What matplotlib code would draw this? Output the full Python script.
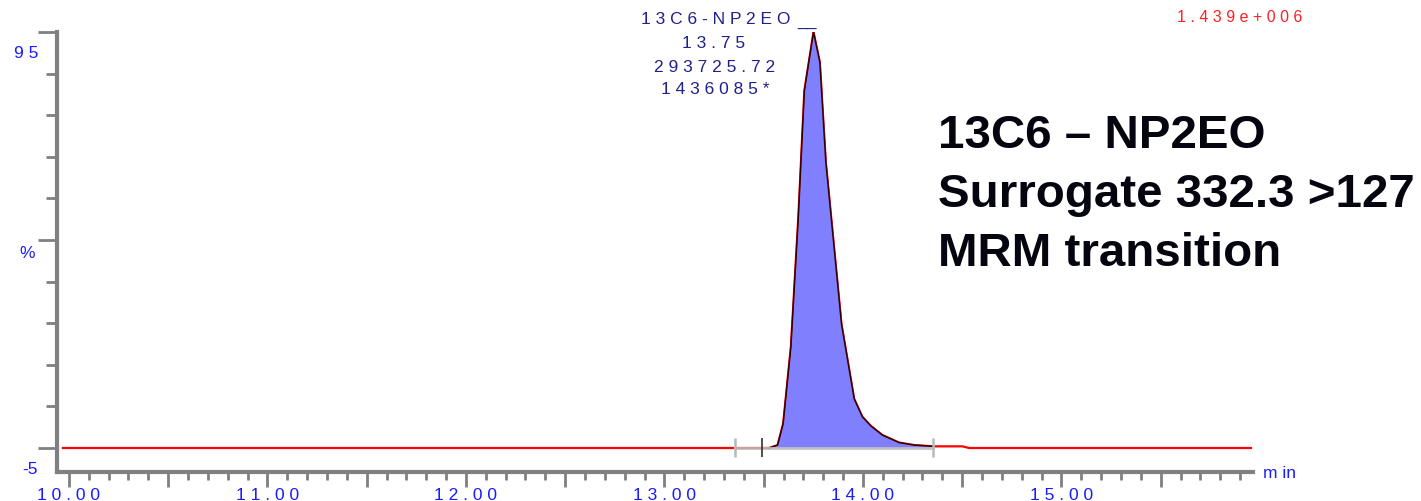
import matplotlib
matplotlib.use('Agg')
import matplotlib.pyplot as plt
from matplotlib.ticker import MultipleLocator, FuncFormatter

plt.rcParams['font.family'] = ['Liberation Sans', 'DejaVu Sans']

# chromatogram trace (time in min, relative intensity in %)
rt = [9.97, 13.40, 13.528, 13.570, 13.598, 13.637, 13.674, 13.705, 13.751,
      13.783, 13.813, 13.892, 13.956, 13.997, 14.040, 14.098, 14.182,
      14.258, 14.353, 14.40, 14.50, 14.535, 15.955]
intensity = [0.0, 0.0, 0.0, 0.7, 5.8, 24.3, 55.0, 85.9, 100.0,
             92.7, 68.8, 29.8, 11.8, 7.5, 5.3, 3.1, 1.3,
             0.7, 0.4, 0.4, 0.4, 0.0, 0.0]

# integration
peak_start = 13.528
peak_end = 14.353
marker_gray = [13.357, 14.353]
marker_black = [13.49]

peak_name = '13C6-NP2EO'
peak_rt = '13.75'
peak_area = '293725.72'
peak_height = '1436085*'
full_scale = '1.439e+006'
title_lines = ['13C6 \u2013 NP2EO', 'Surrogate 332.3 >127', 'MRM transition']


def spaced(s):
    return ' '.join(s)


W, H = 1421, 502
fig = plt.figure(figsize=(W / 100, H / 100), dpi=100)
ax = fig.add_axes([57 / W, (H - 473) / H, (1253 - 57) / W, (473 - 33) / H])

ax.plot(rt, intensity, color='#ff0000', linewidth=1.6, zorder=2)

# peak area
pk_x = [t for t in rt if peak_start <= t <= peak_end]
pk_y = [v for t, v in zip(rt, intensity) if peak_start <= t <= peak_end]
ax.fill_between(pk_x, pk_y, 0, color='#8080ff', linewidth=0, zorder=3)
ax.plot(pk_x, pk_y, color='#300000', linewidth=1.1, zorder=4)
ax.plot([marker_gray[0], peak_end], [0, 0], color='#c0c0c0', alpha=0.85,
        linewidth=2.2, zorder=4)
ax.vlines(marker_gray, -2.2, 2.4, color='#b8b8b8', linewidth=1.8, zorder=5)
ax.vlines(marker_black, -2.2, 2.4, color='#303030', linewidth=1.2, zorder=5)

ax.set_xlim(9.94, 15.965)
ax.set_ylim(-5.77, 100)

for s in ['top', 'right']:
    ax.spines[s].set_visible(False)
for s in ['left', 'bottom']:
    ax.spines[s].set_color('#808080')
    ax.spines[s].set_linewidth(3)

ax.xaxis.set_major_locator(MultipleLocator(0.5))
ax.xaxis.set_minor_locator(MultipleLocator(0.1))
ax.xaxis.set_major_formatter(FuncFormatter(
    lambda v, p: spaced('%.2f' % v) if abs(v - round(v)) < 1e-6 else ''))
ax.tick_params(axis='x', which='major', length=11, width=2, color='#808080',
               labelcolor='#1a1aff', labelsize=12.5, pad=0)
ax.tick_params(axis='x', which='minor', length=6, width=2, color='#808080')

ax.yaxis.set_major_locator(MultipleLocator(50))
ax.yaxis.set_minor_locator(MultipleLocator(10))
ax.tick_params(axis='y', which='major', length=14, width=2, color='#808080',
               labelleft=False)
ax.tick_params(axis='y', which='minor', length=8, width=2, color='#808080')


def fx(px):
    return px / W


def fy(py):
    return 1 - py / H


blue = '#1a1aff'
fig.text(fx(38), fy(53), spaced('95'), color=blue, fontsize=12.5,
         ha='right', va='center')
fig.text(fx(27), fy(253), '%', color=blue, fontsize=12.5, ha='center', va='center')
fig.text(fx(38), fy(470), '-5', color=blue, fontsize=12.5, ha='right', va='center')
fig.text(fx(1263), fy(473), 'm in', color=blue, fontsize=12.5, ha='left', va='center')

navy = '#20208a'
fig.text(fx(716), fy(20), spaced(peak_name), color=navy, fontsize=12.5,
         ha='center', va='center')
fig.text(fx(797), fy(22), '__', color=navy, fontsize=12.5, ha='left', va='center')
fig.text(fx(714), fy(44), spaced(peak_rt), color=navy, fontsize=12.5,
         ha='center', va='center')
fig.text(fx(715), fy(67), spaced(peak_area), color=navy, fontsize=12.5,
         ha='center', va='center')
fig.text(fx(715), fy(89), spaced(peak_height), color=navy, fontsize=12.5,
         ha='center', va='center')

fig.text(fx(1302), fy(17), spaced(full_scale), color='#ff2020', fontsize=11.5,
         ha='right', va='center')

for i, line in enumerate(title_lines):
    fig.text(fx(938), fy(148 + 59 * i), line, color='#050510', fontsize=34.2,
             fontweight='bold', ha='left', va='baseline')

fig.savefig('out.png', dpi=100)
